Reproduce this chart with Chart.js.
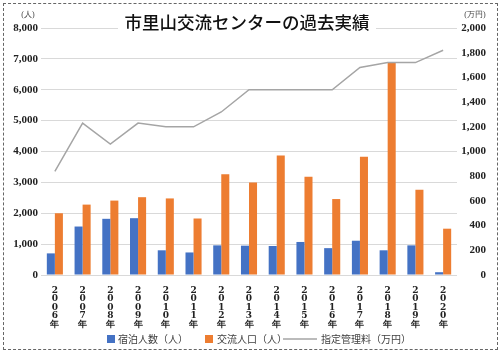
<!DOCTYPE html>
<html lang="ja">
<head>
<meta charset="utf-8">
<script src="https://cdn.jsdelivr.net/npm/chart.js@4/dist/chart.umd.min.js"></script>
<style>
  body { margin: 0; background: #fff; }
  #wrap { position: relative; width: 500px; height: 352px; }
  #frame { position: absolute; left: 3px; top: 3px; width: 493px; height: 345px; border: 1px dashed #666; pointer-events: none; }
</style>
</head>
<body>
<div id="wrap">
  <canvas id="chart" width="500" height="352"></canvas>
  <div id="frame"></div>
</div>
<script>
const chartTitle = "市里山交流センターの過去実績";
const years = ["2006年", "2007年", "2008年", "2009年", "2010年", "2011年", "2012年", "2013年",
  "2014年", "2015年", "2016年", "2017年", "2018年", "2019年", "2020年"];
const seriesNames = ["宿泊人数（人）", "交流人口（人）", "指定管理料（万円）"];
const stayCounts = [700, 1570, 1820, 1840, 800, 730, 960, 950, 940, 1070, 870, 1110, 800, 960, 90];
const exchangeCounts = [2000, 2280, 2410, 2520, 2480, 1830, 3260, 3000, 3870, 3180, 2460, 3830, 6900, 2760, 1500];
const managementFee = [840, 1230, 1060, 1230, 1200, 1200, 1320, 1500, 1500, 1500, 1500, 1680, 1720, 1720, 1820];
const leftUnit = "(人)";
const rightUnit = "(万円)";

const BLUE = "#4472c4";
const ORANGE = "#ed7d31";
const GRAY = "#a5a5a5";
const TEXT = "#404040";
const jpFont = "'Noto Sans CJK JP', 'Noto Sans', sans-serif";
const serifFont = "'Liberation Serif', serif";

// 縦書きラベル（1文字ずつ改行）
const xLabels = years.map(y => y.split(""));

const decorations = {
  id: "decorations",
  afterDraw(chart) {
    const ctx = chart.ctx;
    ctx.save();
    // タイトル（グリッド線を白で隠す）
    ctx.fillStyle = "#fff";
    ctx.fillRect(118, 10, 258, 23);
    ctx.fillStyle = "#111";
    ctx.font = "500 17.5px " + jpFont;
    ctx.textAlign = "center";
    ctx.textBaseline = "middle";
    ctx.fillText(chartTitle, 247, 22);

    // 単位
    ctx.fillStyle = TEXT;
    ctx.font = "8px " + serifFont;
    ctx.fillText(leftUnit, 28, 15);
    ctx.fillText(rightUnit, 475, 15);

    // 凡例
    const ds = chart.data.datasets;
    ctx.font = "10px " + jpFont;
    ctx.textAlign = "left";
    const ly = 339;
    ctx.fillStyle = ds[0].backgroundColor;
    ctx.fillRect(107, ly - 4, 8, 8);
    ctx.fillStyle = TEXT;
    ctx.fillText(ds[0].label, 118, ly);
    ctx.fillStyle = ds[1].backgroundColor;
    ctx.fillRect(205, ly - 4, 8, 8);
    ctx.fillStyle = TEXT;
    ctx.fillText(ds[1].label, 217, ly);
    ctx.strokeStyle = ds[2].borderColor;
    ctx.lineWidth = 1.5;
    ctx.beginPath();
    ctx.moveTo(283, ly);
    ctx.lineTo(317, ly);
    ctx.stroke();
    ctx.fillText(ds[2].label, 321, ly);
    ctx.restore();
  }
};

new Chart(document.getElementById("chart"), {
  data: {
    labels: xLabels,
    datasets: [
      {
        type: "bar",
        label: seriesNames[0],
        data: stayCounts,
        backgroundColor: BLUE,
        yAxisID: "y",
        order: 1,
        categoryPercentage: 0.58,
        barPercentage: 1
      },
      {
        type: "bar",
        label: seriesNames[1],
        data: exchangeCounts,
        backgroundColor: ORANGE,
        yAxisID: "y",
        order: 1,
        categoryPercentage: 0.58,
        barPercentage: 1
      },
      {
        type: "line",
        label: seriesNames[2],
        data: managementFee,
        borderColor: GRAY,
        backgroundColor: GRAY,
        borderWidth: 1.5,
        pointRadius: 0,
        tension: 0,
        yAxisID: "y1",
        order: 0
      }
    ]
  },
  options: {
    responsive: false,
    animation: false,
    layout: { padding: { top: 28, right: 14, left: 0, bottom: 0 } },
    plugins: {
      legend: { display: false },
      tooltip: { enabled: false }
    },
    scales: {
      x: {
        grid: { display: false },
        border: { display: false },
        ticks: {
          autoSkip: false,
          maxRotation: 0,
          padding: 3,
          color: "#222",
          font: { family: "'DejaVu Serif', serif", size: 9, weight: "bold", lineHeight: "8.6px" }
        },
        afterFit(scale) { scale.height = 77; }
      },
      y: {
        position: "left",
        min: 0,
        max: 8000,
        grid: { color: "#d9d9d9", drawTicks: false },
        border: { display: false },
        ticks: {
          stepSize: 1000,
          padding: 3,
          color: "#222",
          font: { family: serifFont, size: 11, weight: "bold" },
          callback: v => v.toLocaleString("en-US")
        },
        afterFit(scale) { scale.width = 41; }
      },
      y1: {
        position: "right",
        min: 0,
        max: 2000,
        grid: { display: false, drawTicks: false },
        border: { display: false },
        ticks: {
          stepSize: 200,
          padding: 5,
          crossAlign: "far",
          color: "#222",
          font: { family: serifFont, size: 11, weight: "bold" },
          callback: v => v.toLocaleString("en-US")
        },
        afterFit(scale) { scale.width = 29; }
      }
    }
  },
  plugins: [decorations]
});
</script>
</body>
</html>
